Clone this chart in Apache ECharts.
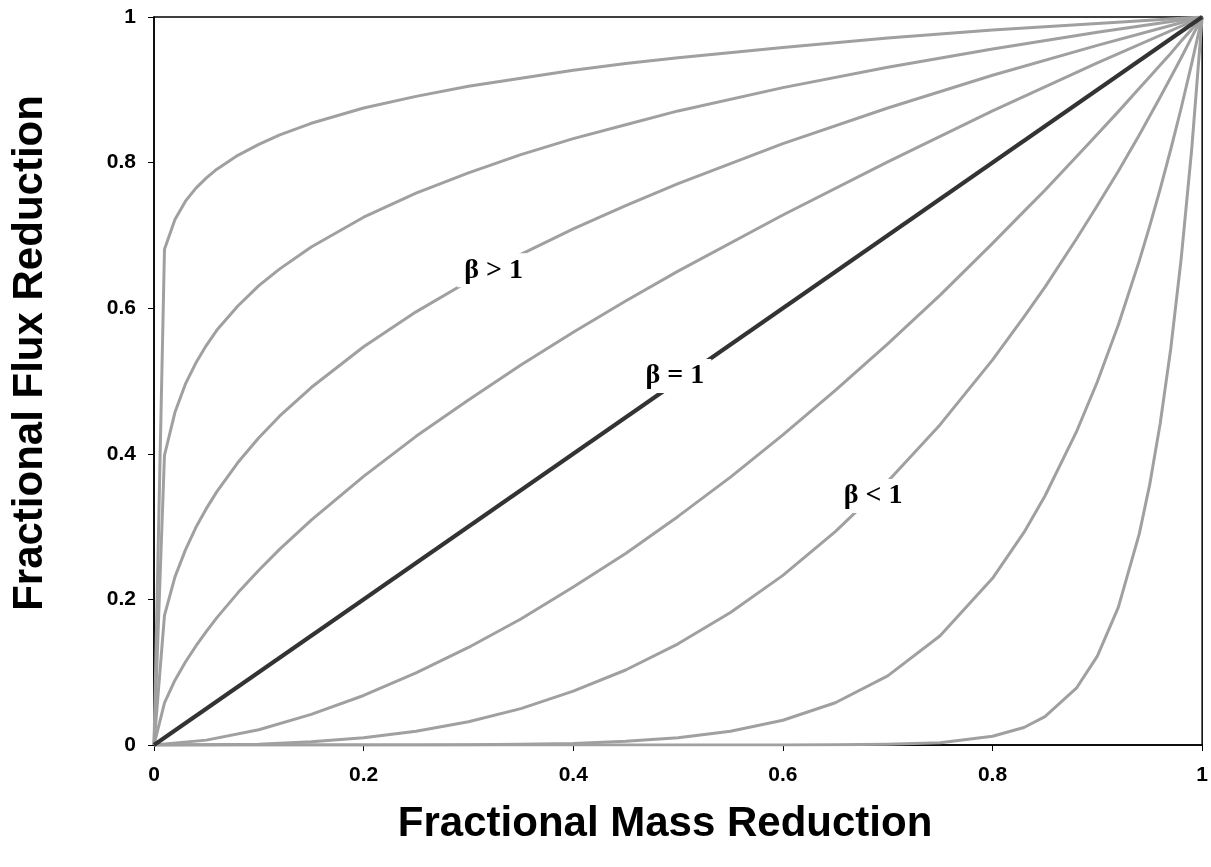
<!DOCTYPE html>
<html>
<head>
<meta charset="utf-8">
<script src="https://cdn.jsdelivr.net/npm/echarts@6/dist/echarts.min.js"></script>
<style>
  html, body { margin: 0; padding: 0; background: #fff; }
  #chart { width: 1211px; height: 867px; }
</style>
</head>
<body>
<div id="chart"></div>
<script>
// mass reduction samples for the curves above the 1:1 line (dense near 0)
var upperX = [0, 0.01, 0.02, 0.03, 0.04, 0.05, 0.06, 0.08, 0.1, 0.12, 0.15, 0.2, 0.25, 0.3, 0.35, 0.4, 0.45, 0.5, 0.6, 0.7, 0.8, 0.9, 1];
var curveA = [0, 0.681, 0.722, 0.747, 0.765, 0.779, 0.791, 0.810, 0.825, 0.838, 0.854, 0.875, 0.891, 0.905, 0.916, 0.927, 0.936, 0.944, 0.958, 0.971, 0.982, 0.991, 1];
var curveB = [0, 0.398, 0.457, 0.496, 0.525, 0.549, 0.570, 0.603, 0.631, 0.654, 0.684, 0.725, 0.758, 0.786, 0.811, 0.833, 0.852, 0.871, 0.903, 0.931, 0.956, 0.979, 1];
var curveC = [0, 0.178, 0.231, 0.268, 0.299, 0.325, 0.348, 0.388, 0.422, 0.452, 0.491, 0.547, 0.595, 0.637, 0.674, 0.709, 0.741, 0.771, 0.826, 0.875, 0.920, 0.961, 1];
var curveD = [0, 0.058, 0.089, 0.114, 0.136, 0.156, 0.175, 0.209, 0.240, 0.269, 0.309, 0.369, 0.424, 0.474, 0.522, 0.567, 0.610, 0.651, 0.728, 0.801, 0.871, 0.937, 1];

// 1:1 line
var diagX = [0, 1];
var diagY = [0, 1];

// mass reduction samples for the curves below the 1:1 line (dense near 1)
var lowerX = [0, 0.05, 0.1, 0.15, 0.2, 0.25, 0.3, 0.35, 0.4, 0.45, 0.5, 0.55, 0.6, 0.65, 0.7, 0.75, 0.8, 0.83, 0.85, 0.88, 0.9, 0.92, 0.94, 0.95, 0.96, 0.97, 0.98, 0.99, 1];
var curveE = [0, 0.0067, 0.021, 0.042, 0.068, 0.099, 0.134, 0.173, 0.217, 0.263, 0.314, 0.368, 0.426, 0.487, 0.551, 0.618, 0.689, 0.733, 0.762, 0.808, 0.839, 0.870, 0.902, 0.918, 0.934, 0.950, 0.967, 0.983, 1];
var curveF = [0, 0.0002, 0.001, 0.0045, 0.010, 0.019, 0.032, 0.050, 0.074, 0.103, 0.139, 0.182, 0.233, 0.293, 0.362, 0.440, 0.529, 0.588, 0.629, 0.695, 0.741, 0.788, 0.838, 0.864, 0.890, 0.917, 0.944, 0.972, 1];
var curveG = [0, 0, 0, 0, 0, 0.0001, 0.0004, 0.001, 0.002, 0.005, 0.010, 0.019, 0.034, 0.058, 0.095, 0.150, 0.229, 0.292, 0.342, 0.430, 0.499, 0.577, 0.665, 0.713, 0.764, 0.818, 0.875, 0.936, 1];
var curveH = [0, 0, 0, 0, 0, 0, 0, 0, 0, 0, 0, 0, 0, 0.0002, 0.001, 0.003, 0.012, 0.024, 0.039, 0.078, 0.122, 0.189, 0.290, 0.358, 0.442, 0.544, 0.668, 0.818, 1];

// annotations
var noteText = ['\u03b2 > 1', '\u03b2 = 1', '\u03b2 < 1'];
var noteX = [0.324, 0.497, 0.686];
var noteY = [0.652, 0.507, 0.342];

function pairs(xs, ys) {
    var out = [];
    for (var i = 0; i < xs.length; i++) {
        out.push([xs[i], ys[i]]);
    }
    return out;
}

var gray = '#a0a0a0';
var grayCurves = [
    [upperX, curveA], [upperX, curveB], [upperX, curveC], [upperX, curveD],
    [lowerX, curveE], [lowerX, curveF], [lowerX, curveG], [lowerX, curveH]
];

var series = [];
grayCurves.forEach(function (c) {
    series.push({
        type: 'line',
        data: pairs(c[0], c[1]),
        showSymbol: false,
        silent: true,
        lineStyle: { color: gray, width: 3, join: 'round' },
        z: 2
    });
});

series.push({
    type: 'line',
    data: pairs(diagX, diagY),
    showSymbol: false,
    silent: true,
    lineStyle: { color: '#333333', width: 4 },
    z: 3
});

var notes = [];
for (var i = 0; i < noteText.length; i++) {
    notes.push({ value: [noteX[i], noteY[i]], name: noteText[i] });
}
series.push({
    type: 'scatter',
    data: notes,
    symbolSize: 1,
    silent: true,
    z: 10,
    itemStyle: { opacity: 1, color: '#fff' },
    label: {
        show: true,
        position: 'inside',
        formatter: '{b}',
        fontFamily: 'Liberation Serif, Times New Roman, serif',
        fontWeight: 'bold',
        fontSize: 28,
        color: '#000',
        opacity: 1,
        backgroundColor: '#fff',
        padding: [3, 7, 3, 7]
    }
});

var myChart = echarts.init(document.getElementById('chart'));

var axisFont = {
    fontFamily: 'Liberation Sans, Arial, sans-serif',
    fontWeight: 'bold',
    fontSize: 21,
    color: '#000'
};
var titleFont = {
    fontFamily: 'Liberation Sans, Arial, sans-serif',
    fontWeight: 'bold',
    fontSize: 42,
    color: '#000'
};

var option = {
    animation: false,
    backgroundColor: '#fff',
    grid: {
        left: 154,
        right: 8,
        top: 17,
        bottom: 122,
        show: true,
        borderColor: '#000',
        borderWidth: 1.5
    },
    xAxis: {
        type: 'value',
        min: 0,
        max: 1,
        interval: 0.2,
        name: 'Fractional Mass Reduction',
        nameLocation: 'middle',
        nameGap: 58,
        nameTextStyle: Object.assign({ padding: [0, 26, 0, 0] }, titleFont),
        axisLine: { show: true, lineStyle: { color: '#000', width: 1.5 } },
        axisTick: { show: true, inside: false, length: 6, lineStyle: { color: '#000' } },
        splitLine: { show: false },
        axisLabel: Object.assign({ margin: 20 }, axisFont)
    },
    yAxis: {
        type: 'value',
        min: 0,
        max: 1,
        interval: 0.2,
        name: 'Fractional Flux Reduction',
        nameLocation: 'middle',
        nameGap: 103,
        nameTextStyle: Object.assign({ padding: [0, 0, 0, 56] }, titleFont),
        axisLine: { show: true, lineStyle: { color: '#000', width: 1.5 } },
        axisTick: { show: true, inside: false, length: 6, lineStyle: { color: '#000' } },
        splitLine: { show: false },
        axisLabel: Object.assign({ margin: 18 }, axisFont)
    },
    series: series
};

myChart.setOption(option);
</script>
</body>
</html>
